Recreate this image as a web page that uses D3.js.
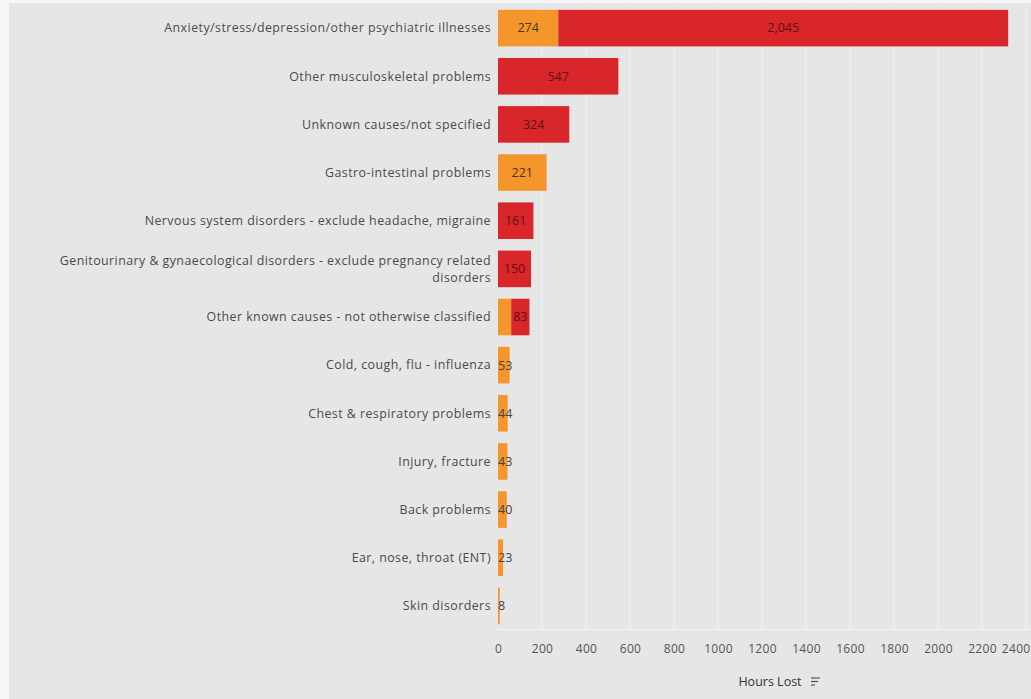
<!DOCTYPE html>
<html>
<head>
<meta charset="utf-8">
<script src="https://cdn.jsdelivr.net/npm/d3@7"></script>
<style>
  body { margin: 0; background: #fff; }
  svg { display: block; font-family: "Open Sans", sans-serif; }
</style>
</head>
<body>
<svg id="chart" width="1031" height="699"></svg>
<script>
// categories, top to bottom
var causes = [
  'Anxiety/stress/depression/other psychiatric illnesses',
  'Other musculoskeletal problems',
  'Unknown causes/not specified',
  'Gastro-intestinal problems',
  'Nervous system disorders - exclude headache, migraine',
  'Genitourinary & gynaecological disorders - exclude pregnancy related disorders',
  'Other known causes - not otherwise classified',
  'Cold, cough, flu - influenza',
  'Chest & respiratory problems',
  'Injury, fracture',
  'Back problems',
  'Ear, nose, throat (ENT)',
  'Skin disorders'
];
// hours lost, orange part then red part
var orangeHours = [274, 0, 0, 221, 0, 0, 60, 53, 44, 43, 40, 23, 8];
var redHours    = [2045, 547, 324, 0, 161, 150, 83, 0, 0, 0, 0, 0, 0];
var xTicks = [0, 200, 400, 600, 800, 1000, 1200, 1400, 1600, 1800, 2000, 2200, 2400];

var colors = {orange: '#f5962c', red: '#d9262b'};
var labelColors = {orange: '#4a3518', red: '#5e1213'};

var svg = d3.select('#chart');
var W = 1031, H = 699;
var plotLeft = 498, plotTop = 5, plotBottom = 629;

svg.append('rect').attr('width', W).attr('height', H).attr('fill', '#e6e6e6');
svg.append('rect').attr('width', W).attr('height', 3).attr('fill', '#f6f6f6');
svg.append('rect').attr('width', 9).attr('height', H).attr('fill', '#f6f6f6');

var x = d3.scaleLinear().domain([0, 2400]).range([plotLeft, 1026]);
var y = d3.scaleBand().domain(causes).range([plotTop, plotBottom]).paddingInner(0.24).paddingOuter(0.1);

// gridlines
svg.append('g').selectAll('line').data(xTicks.slice(1)).join('line')
  .attr('x1', d => x(d)).attr('x2', d => x(d))
  .attr('y1', plotTop).attr('y2', plotBottom)
  .attr('stroke', '#f2f2f2').attr('stroke-width', 1);

svg.append('line').attr('x1', plotLeft).attr('x2', W)
  .attr('y1', plotBottom + 0.5).attr('y2', plotBottom + 0.5)
  .attr('stroke', '#f4f4f4');

// stacked segments
var segs = [];
causes.forEach(function(c, i) {
  var o = orangeHours[i], r = redHours[i];
  if (o > 0) segs.push({cause: c, key: 'orange', x0: 0, x1: o, value: o, last: r == 0});
  if (r > 0) segs.push({cause: c, key: 'red', x0: o, x1: o + r, value: r, last: true});
});

svg.append('g').selectAll('rect').data(segs).join('rect')
  .attr('x', d => x(d.x0))
  .attr('y', d => y(d.cause))
  .attr('width', d => Math.max(1, x(d.x1) - x(d.x0)))
  .attr('height', y.bandwidth())
  .attr('fill', d => colors[d.key]);

var fmt = d3.format(',');
var labels = svg.append('g').attr('font-size', 12.5);
segs.forEach(function(d) {
  var w = x(d.x1) - x(d.x0);
  var t = labels.append('text')
    .attr('y', y(d.cause) + y.bandwidth() / 2)
    .attr('dy', '0.35em')
    .attr('fill', labelColors[d.key])
    .text(fmt(d.value));
  var tw = t.node().getComputedTextLength();
  if (tw + 2 <= w) {
    t.attr('x', (x(d.x0) + x(d.x1)) / 2).attr('text-anchor', 'middle');
  } else if (d.last) {
    t.attr('x', x(d.x0)).attr('fill', '#444');
  } else {
    t.remove();
  }
});

// category labels
var cat = svg.append('g').attr('font-size', 12.4).attr('letter-spacing', 0.45)
  .attr('fill', '#4a4a4a').attr('text-anchor', 'end');
causes.forEach(function(c) {
  var cy = y(c) + y.bandwidth() / 2;
  var t = cat.append('text').attr('x', 491).attr('y', cy).attr('dy', '0.35em').text(c);
  if (t.node().getComputedTextLength() > 440) {
    var words = c.split(' ');
    var first = words.slice(0, -1).join(' ');
    var second = words[words.length - 1];
    t.text(null);
    t.append('tspan').attr('x', 491).attr('y', cy - 8).attr('dy', '0.35em').text(first);
    t.append('tspan').attr('x', 491).attr('y', cy + 9).attr('dy', '0.35em').text(second);
  }
});

// x axis
var axis = svg.append('g').attr('transform', 'translate(0,' + plotBottom + ')')
  .call(d3.axisBottom(x).tickValues(xTicks).tickSize(0).tickPadding(15).tickFormat(d3.format('d')));
axis.select('.domain').remove();
axis.selectAll('text').attr('font-size', 12).attr('letter-spacing', 0.3)
  .attr('fill', '#555').attr('font-family', '"Open Sans", sans-serif');
// last tick label sits against the right edge
axis.selectAll('.tick').filter(d => d == 2400).select('text')
  .attr('text-anchor', 'end').attr('x', W - x(2400) - 1);

svg.append('text').attr('x', 770).attr('y', 686).attr('text-anchor', 'middle')
  .attr('font-size', 12.5).attr('fill', '#333').text('Hours Lost');

// sort icon
var icon = svg.append('g').attr('stroke', '#555').attr('stroke-width', 1.2);
[[811, 820, 678], [811, 818, 681.5], [811, 815, 685]].forEach(function(l) {
  icon.append('line').attr('x1', l[0]).attr('x2', l[1]).attr('y1', l[2]).attr('y2', l[2]);
});
</script>
</body>
</html>
